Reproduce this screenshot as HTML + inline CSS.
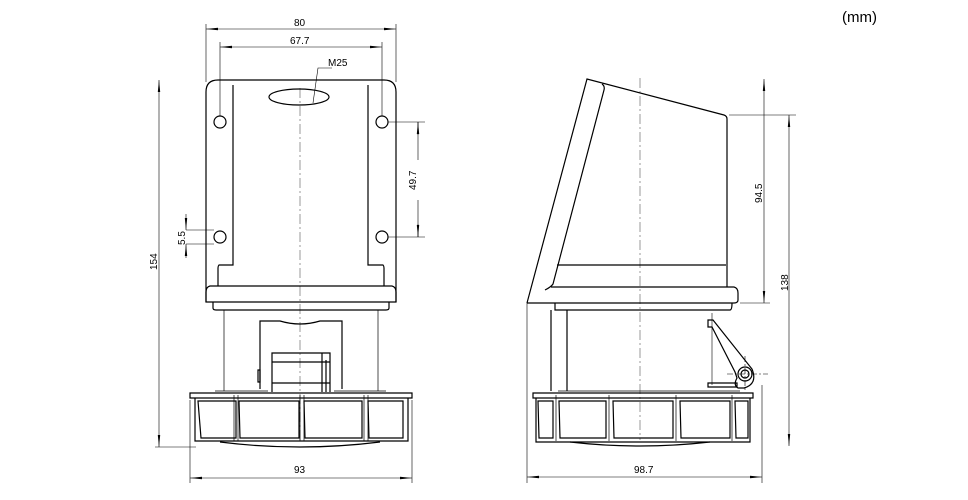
<!DOCTYPE html>
<html><head><meta charset="utf-8"><style>
html,body{margin:0;padding:0;background:#fff;}
svg{display:block;}
text{font-family:"Liberation Sans Narrow","Liberation Sans",sans-serif;font-size:10px;fill:#000;}
</style></head><body>
<svg width="968" height="500" viewBox="0 0 968 500" xmlns="http://www.w3.org/2000/svg">
<defs>
<marker id="a" viewBox="0 0 12 4" refX="12" refY="2" markerWidth="12" markerHeight="4" orient="auto-start-reverse" markerUnits="userSpaceOnUse"><path d="M0,0.8 L12,2 L0,3.2z" fill="#000"/></marker>
</defs>
<text x="842" y="22" style="font-family:'Liberation Sans',sans-serif;font-size:15px">(mm)</text>
<g fill="none" stroke="#000" stroke-width="0.6">
<!-- FRONT VIEW dims -->
<line x1="206" y1="24" x2="206" y2="82"/><line x1="396" y1="24" x2="396" y2="82"/>
<line x1="206" y1="29" x2="396" y2="29" marker-start="url(#a)" marker-end="url(#a)"/>
<line x1="220" y1="42" x2="220" y2="116"/><line x1="382" y1="42" x2="382" y2="116"/>
<line x1="220" y1="47" x2="382" y2="47" marker-start="url(#a)" marker-end="url(#a)"/>
<polyline points="332,68 318,68 313,103"/>
<line x1="159" y1="80" x2="159" y2="447" marker-start="url(#a)" marker-end="url(#a)"/>
<line x1="155" y1="447" x2="196" y2="447"/>
<line x1="388" y1="122" x2="425" y2="122"/><line x1="388" y1="237" x2="425" y2="237"/>
<line x1="418" y1="122" x2="418" y2="135" /><line x1="418" y1="224" x2="418" y2="237"/>
<line x1="418" y1="160" x2="418" y2="122" marker-end="url(#a)"/>
<line x1="418" y1="200" x2="418" y2="237" marker-end="url(#a)"/>
<line x1="186" y1="230" x2="214" y2="230"/><line x1="186" y1="244" x2="214" y2="244"/>
<line x1="186" y1="214" x2="186" y2="230" marker-end="url(#a)"/>
<line x1="186" y1="258" x2="186" y2="244" marker-end="url(#a)"/>
<line x1="190" y1="400" x2="190" y2="483"/><line x1="412" y1="400" x2="412" y2="483"/>
<line x1="190" y1="478" x2="412" y2="478" marker-start="url(#a)" marker-end="url(#a)"/>
<line x1="300" y1="88" x2="300" y2="440" stroke-dasharray="10,3,2,3" stroke-width="0.4"/>
</g>
<text x="294" y="26">80</text>
<text x="290" y="44">67.7</text>
<text x="328" y="66">M25</text>
<text x="294" y="473">93</text>
<text transform="translate(157,270) rotate(-90)">154</text>
<text transform="translate(416,190) rotate(-90)">49.7</text>
<text transform="translate(185,245) rotate(-90)">5.5</text>
<g fill="none" stroke="#000" stroke-width="1.2">
<path d="M206,302 L206,92 Q206,80 218,80 L384,80 Q396,80 396,92 L396,302"/>
<path d="M233,85 L233,265 L219,265 Q218,266 218,268 L218,286"/>
<path d="M368,85 L368,265 L383,265 Q384,266 384,268 L384,286"/>
<path d="M210,286 L392,286 Q396,287 396,292 L396,302 L206,302 L206,292 Q206,287 210,286z"/>
<path d="M213,302 L213,308 Q213,310 216,310 L386,310 Q389,310 389,308 L389,302"/>
<ellipse cx="299" cy="97" rx="30" ry="8"/>
<circle cx="220" cy="122" r="6"/><circle cx="382" cy="122" r="6"/>
<circle cx="220" cy="237" r="6"/><circle cx="382" cy="237" r="6"/>
<path d="M260,389 L260,321 L280,321 Q300,327 320,321 L342,321 L342,389"/>
<path d="M272,392 L272,353 L330,353 L330,392 M272,362 L330,362 M272,383 L330,383 M322,353 L322,392 M326,360 L326,392"/>
<path d="M258,370 L260,370 L260,382 L258,382z"/>
<path d="M190,393 L412,393 L412,398 L190,398z"/>
<path d="M195,398 L195,441 L408,441 L408,398"/>
<path d="M198,401 L236,401 L236,438 L201,438 Z M239,401 L299,401 L299,438 L240,438 Z M304,401 L362,401 L362,438 L305,438 Z M368,401 L403,401 L403,438 L369,438 Z"/>
<path d="M220,442 Q300,452 380,442"/>
</g>
<g stroke="#000" stroke-width="0.7" fill="none">
<line x1="224" y1="310" x2="224" y2="391"/><line x1="378" y1="310" x2="378" y2="391"/>
<line x1="215" y1="391" x2="268" y2="391"/><line x1="334" y1="391" x2="386" y2="391"/>
<line x1="234" y1="395" x2="234" y2="441"/><line x1="238" y1="395" x2="238" y2="441"/>
<line x1="300" y1="395" x2="300" y2="441"/><line x1="304" y1="395" x2="304" y2="441"/>
<line x1="364" y1="395" x2="364" y2="441"/><line x1="368" y1="395" x2="368" y2="441"/>
</g>
<!-- SIDE VIEW -->
<g fill="none" stroke="#000" stroke-width="0.6">
<line x1="640" y1="78" x2="640" y2="440" stroke-dasharray="10,3,2,3" stroke-width="0.4"/>
<line x1="729" y1="115" x2="796" y2="115"/>
<line x1="740" y1="303" x2="770" y2="303"/>
<line x1="764" y1="79" x2="764" y2="303" marker-start="url(#a)" marker-end="url(#a)"/>
<line x1="789" y1="115" x2="789" y2="446" marker-start="url(#a)" marker-end="url(#a)"/>
<line x1="527" y1="303" x2="527" y2="483"/><line x1="762" y1="385" x2="762" y2="483"/>
<line x1="527" y1="477" x2="762" y2="477" marker-start="url(#a)" marker-end="url(#a)"/>
<line x1="727" y1="374" x2="768" y2="374" stroke-dasharray="6,2,2,2"/>
<line x1="745" y1="356" x2="745" y2="392" stroke-dasharray="6,2,2,2"/>
<line x1="712" y1="313" x2="712" y2="385"/>
</g>
<text transform="translate(762,203) rotate(-90)">94.5</text>
<text transform="translate(788,291) rotate(-90)">138</text>
<text x="634" y="473">98.7</text>
<g fill="none" stroke="#000" stroke-width="1.2">
<path d="M527,303 L587,79 L724,115 Q727,116 727,119 L727,287"/>
<path d="M602,84 Q605,86 604,90 L553,284 Q551,287 545,290"/>
<line x1="557" y1="265" x2="726" y2="265"/>
<path d="M551,287 L734,287 Q738,288 738,293 L738,300 Q738,303 734,303 L527,303"/>
<path d="M555,303 L555,310 L730,310 Q732,310 732,303"/>
<line x1="551" y1="310" x2="551" y2="391"/><line x1="567" y1="310" x2="567" y2="391"/>
<path d="M708,320 L713,320 L752,369 Q758,384 744,388 L738,388 Q733,385 737,378 L735,372 L712,327 L708,327z"/>
<circle cx="745" cy="374" r="7"/><circle cx="745" cy="374" r="4"/>
<path d="M708,383 L737,383 L737,387 L708,387z"/>
<path d="M533,393 L753,393 L753,398 L533,398z"/>
<path d="M536,398 L536,442 L750,442 L750,398"/>
<path d="M538,401 L553,401 L553,438 L539,438 Z M559,401 L606,401 L606,438 L560,438 Z M613,401 L673,401 L673,438 L614,438 Z M680,401 L730,401 L730,438 L681,438 Z M735,401 L748,401 L748,438 L736,438 Z"/>
<path d="M570,442 Q640,450 710,442"/>
</g>
<g stroke="#000" stroke-width="0.7" fill="none">
<line x1="556" y1="395" x2="556" y2="441"/><line x1="609" y1="395" x2="609" y2="441"/>
<line x1="676" y1="395" x2="676" y2="441"/><line x1="732" y1="395" x2="732" y2="441"/>
<line x1="558" y1="391" x2="740" y2="391"/>
</g>
</svg>
</body></html>
